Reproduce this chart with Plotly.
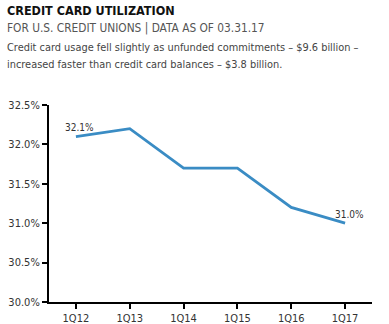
import plotly.graph_objects as go

quarters = ["1Q12", "1Q13", "1Q14", "1Q15", "1Q16", "1Q17"]
utilization = [32.1, 32.2, 31.7, 31.7, 31.2, 31.0]
y_ticks = [30.0, 30.5, 31.0, 31.5, 32.0, 32.5]
y_tick_labels = ["30.0%", "30.5%", "31.0%", "31.5%", "32.0%", "32.5%"]

title = "CREDIT CARD UTILIZATION"
subtitle = "FOR U.S. CREDIT UNIONS | DATA AS OF 03.31.17"
desc1 = "Credit card usage fell slightly as unfunded commitments – $9.6 billion –"
desc2 = "increased faster than credit card balances – $3.8 billion."

font_c = "DejaVu Sans Condensed, Liberation Sans Narrow, sans-serif"

fig = go.Figure()
fig.add_trace(go.Scatter(
    x=quarters, y=utilization, mode="lines",
    line=dict(color="#3a8cc4", width=2.8),
    hoverinfo="skip", showlegend=False,
))

for i in (0, len(quarters) - 1):
    fig.add_annotation(
        x=quarters[i], y=utilization[i], text=f"{utilization[i]:.1f}%",
        showarrow=False, yshift=9, xshift=4,
        font=dict(size=10, color="#333333", family=font_c),
        xref="x", yref="y",
    )

texts = [
    (title, 11, dict(size=12.5, color="#111111", family=font_c), True),
    (subtitle, 28, dict(size=11.8, color="#555555", family=font_c), False),
    (desc1, 47.5, dict(size=10.9, color="#444444", family=font_c), False),
    (desc2, 64.5, dict(size=10.9, color="#444444", family=font_c), False),
]
for txt, ypx, f, bold in texts:
    fig.add_annotation(
        text=f"<b>{txt}</b>" if bold else txt,
        x=-44 / 323, xanchor="left", xref="paper",
        y=(302 - ypx) / 197, yanchor="middle", yref="paper",
        showarrow=False, font=f, align="left",
    )

fig.update_layout(
    width=389, height=324,
    margin=dict(l=49, r=17, t=105, b=22),
    plot_bgcolor="white", paper_bgcolor="white",
    xaxis=dict(
        range=[-0.5, 5.5], showgrid=False, zeroline=False, automargin=False,
        showline=True, linecolor="black", linewidth=2,
        ticks="outside", ticklen=5, tickwidth=2, tickcolor="black",
        tickfont=dict(size=11, color="#333333", family=font_c),
        fixedrange=True,
    ),
    yaxis=dict(
        range=[30.0, 32.5], tickvals=y_ticks, ticktext=y_tick_labels,
        showgrid=False, zeroline=False, automargin=False,
        showline=True, linecolor="black", linewidth=2,
        ticks="outside", ticklen=5, tickwidth=2, tickcolor="black",
        tickfont=dict(size=11, color="#333333", family=font_c),
        fixedrange=True,
    ),
)

fig.write_html("out.html")
